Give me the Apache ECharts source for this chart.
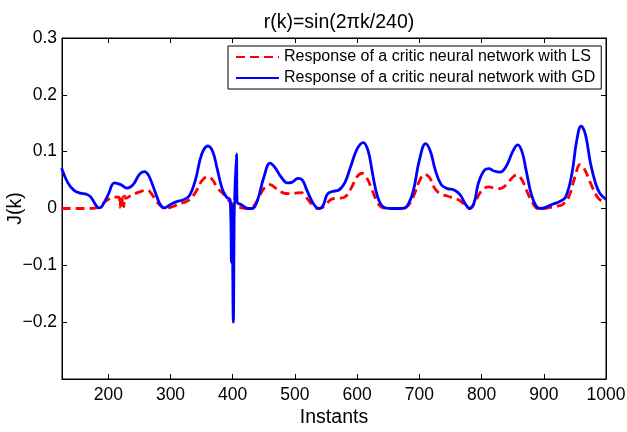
<!DOCTYPE html>
<html>
<head>
<meta charset="utf-8">
<script src="https://cdn.jsdelivr.net/npm/echarts@6/dist/echarts.min.js"></script>
<style>
html,body{margin:0;padding:0;background:#fff;}
#chart{width:627px;height:432px;}
</style>
</head>
<body>
<div id="chart"></div>
<script>
// ---- data ----
const titleText = 'r(k)=sin(2\u03c0k/240)';
const nameLS = 'Response of a critic neural network with LS';
const nameGD = 'Response of a critic neural network with GD';
const xTicks = [200, 300, 400, 500, 600, 700, 800, 900, 1000];
const yTicks = [0.3, 0.2, 0.1, 0, -0.1, -0.2];

const kGD = [125,135,145,155,165,172,180,185,190,200,210,220,230,240,250,258,265,275,283,290,300,310,320,330,340,350,360,368,375,383,390,396,398,399,401,403,404,406,407,415,425,432,440,450,460,468,478,488,495,505,512,520,530,538,545,552,560,570,580,590,600,610,618,625,633,642,655,670,680,690,700,710,718,725,735,745,755,765,775,781,788,795,805,812,820,830,840,850,858,865,872,880,888,895,905,915,925,935,945,953,960,967,975,983,990,1000];
const jGD = [0.071,0.045,0.032,0.027,0.025,0.02,0.006,0.001,0.004,0.025,0.045,0.042,0.036,0.042,0.06,0.065,0.058,0.03,0.008,0.001,0.007,0.012,0.015,0.022,0.05,0.095,0.11,0.1,0.07,0.035,0.02,0.015,-0.095,0.005,-0.2,0.012,0.012,0.096,0.012,0.006,0.0,0.0,0.015,0.055,0.08,0.072,0.055,0.045,0.046,0.053,0.05,0.03,0.008,0.0,0.005,0.025,0.03,0.032,0.045,0.075,0.105,0.116,0.1,0.06,0.02,0.003,0.0,0.0,0.004,0.03,0.085,0.114,0.1,0.07,0.042,0.035,0.033,0.025,0.006,0.0,0.01,0.045,0.068,0.07,0.066,0.064,0.075,0.1,0.112,0.1,0.065,0.025,0.004,0.0,0.003,0.008,0.012,0.02,0.06,0.12,0.145,0.13,0.08,0.045,0.027,0.016];

const kLS = [125,150,170,180,190,200,210,217,219,220,222,223,225,226,228,235,245,255,263,270,278,285,292,300,310,320,330,340,350,360,368,375,383,390,397,405,415,425,432,440,450,460,470,480,490,500,510,518,528,537,545,552,560,570,580,590,600,608,615,625,633,642,655,670,680,690,700,708,716,725,735,745,755,765,775,781,788,797,805,812,820,830,840,850,857,865,873,882,890,900,910,920,930,940,950,958,965,975,985,992,1000];
const jLS = [0.0,0.0,0.0,0.001,0.008,0.016,0.02,0.02,0.002,0.022,0.0,0.02,0.003,0.022,0.018,0.022,0.027,0.031,0.032,0.025,0.012,0.004,0.0,0.002,0.006,0.01,0.015,0.028,0.048,0.056,0.05,0.036,0.028,0.02,0.01,0.005,0.001,0.0,0.002,0.015,0.035,0.042,0.035,0.028,0.026,0.027,0.028,0.02,0.006,0.0,0.002,0.01,0.017,0.018,0.02,0.035,0.056,0.062,0.055,0.03,0.01,0.001,0.0,0.0,0.003,0.02,0.048,0.06,0.055,0.035,0.025,0.022,0.018,0.014,0.004,0.0,0.008,0.027,0.036,0.038,0.036,0.035,0.042,0.055,0.059,0.05,0.03,0.01,0.0,0.0,0.002,0.004,0.007,0.02,0.055,0.077,0.07,0.045,0.022,0.014,0.012];

const pairs = (xs, ys) => xs.map((x, i) => [x, ys[i]]);

const chart = echarts.init(document.getElementById('chart'), null, {renderer: 'canvas'});
const font = 'Liberation Sans, Arial, Helvetica, sans-serif';
const fmtY = v => {
  const r = Math.round(v * 10) / 10;
  if (Math.abs(r + 0.3) < 1e-9) return '';
  if (r === 0) return '0';
  return (r < 0 ? '\u2212' : '') + Math.abs(r).toFixed(1);
};
const fmtX = v => String(Math.round(v));

const tickStyle = {show: true, inside: true, length: 5, lineStyle: {color: '#000', width: 1}};
const lineAx = {show: true, onZero: false, lineStyle: {color: '#000', width: 1}};

chart.setOption({
  animation: false,
  backgroundColor: '#fff',
  title: {
    text: titleText, left: 334, top: 8, textAlign: 'center',
    textStyle: {fontFamily: font, fontSize: 19.5, fontWeight: 'normal', color: '#000'}
  },
  grid: {left: 62, right: 21, top: 38, bottom: 53, outerBoundsMode: 'none', containLabel: false,
         show: true, borderColor: '#000', borderWidth: 1, backgroundColor: 'transparent'},
  legend: {
    show: true, orient: 'vertical', left: 228, top: 46,
    padding: [3, 6, 3, 7], itemGap: 5,
    itemWidth: 43, itemHeight: 16,
    borderColor: '#000', borderWidth: 1, backgroundColor: '#fff',
    itemStyle: {opacity: 0},
    textStyle: {fontFamily: font, fontSize: 16, color: '#000'},
    data: [nameLS, nameGD]
  },
  xAxis: [{
    type: 'value', min: 125.6, max: 1000, position: 'bottom',
    name: 'Instants', nameLocation: 'middle', nameGap: 29, nameMoveOverlap: false,
    nameTextStyle: {fontFamily: font, fontSize: 19.5, color: '#000'},
    axisLine: lineAx,
    axisTick: Object.assign({customValues: xTicks}, tickStyle),
    axisLabel: {customValues: xTicks, formatter: fmtX, margin: 7, fontFamily: font, fontSize: 17.5, color: '#000'},
    splitLine: {show: false}
  }, {
    type: 'value', min: 125.6, max: 1000, position: 'top',
    axisLine: lineAx,
    axisTick: Object.assign({customValues: xTicks}, tickStyle),
    axisLabel: {show: false},
    splitLine: {show: false}
  }],
  yAxis: [{
    type: 'value', min: -0.3, max: 0.3, interval: 0.1, position: 'left',
    name: 'J(k)', nameLocation: 'middle', nameGap: 36, nameRotate: 90, nameMoveOverlap: false,
    nameTextStyle: {fontFamily: font, fontSize: 19.5, color: '#000'},
    axisLine: lineAx,
    axisTick: tickStyle,
    axisLabel: {formatter: fmtY, margin: 5, fontFamily: font, fontSize: 17.5, color: '#000'},
    splitLine: {show: false}
  }, {
    type: 'value', min: -0.3, max: 0.3, interval: 0.1, position: 'right',
    axisLine: lineAx,
    axisTick: tickStyle,
    axisLabel: {show: false},
    splitLine: {show: false}
  }],
  series: [{
    name: nameLS, type: 'line', xAxisIndex: 0, yAxisIndex: 0,
    data: pairs(kLS, jLS),
    smooth: 0.4,
    showSymbol: false, symbol: 'none',
    lineStyle: {color: '#ff0000', width: 2.8, type: [9, 5]},
    itemStyle: {color: '#ff0000'},
    z: 2
  }, {
    name: nameGD, type: 'line', xAxisIndex: 0, yAxisIndex: 0,
    data: pairs(kGD, jGD),
    smooth: 0.4,
    showSymbol: false, symbol: 'none',
    lineStyle: {color: '#0000ff', width: 2.8},
    itemStyle: {color: '#0000ff'},
    z: 3
  }]
});
</script>
</body>
</html>
